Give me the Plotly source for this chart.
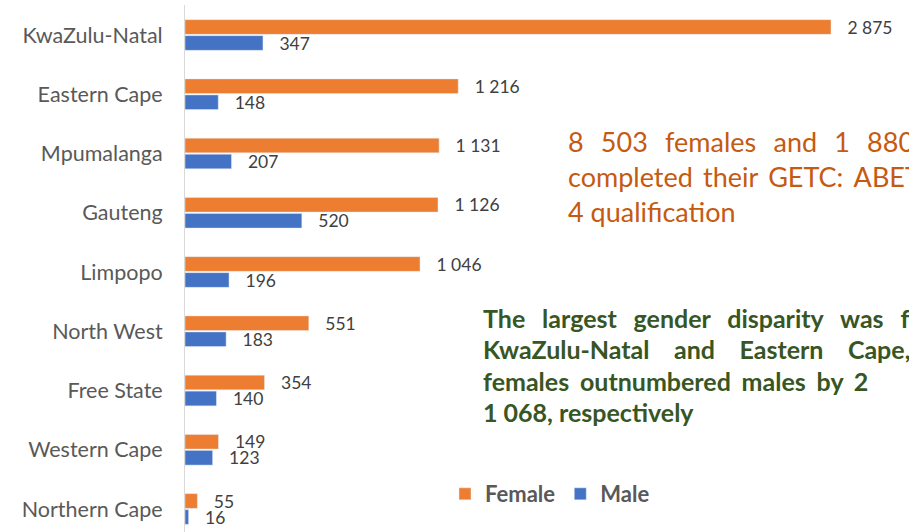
import plotly.graph_objects as go

provinces = ["KwaZulu-Natal", "Eastern Cape", "Mpumalanga", "Gauteng", "Limpopo",
             "North West", "Free State", "Western Cape", "Northern Cape"]
female = [2875, 1216, 1131, 1126, 1046, 551, 354, 149, 55]
male = [347, 148, 207, 520, 196, 183, 140, 123, 16]

ORANGE = "#ED7D31"
BLUE = "#4472C4"
FONT = "Lato"
NB = "\u00a0"
HAIR = "\u200a"
THIN = "\u2009"

W, H = 909, 532
L, T = 185, 5
PW, PH = W - L, H - T


def px(X):
    return (X - L) / PW


def py(Y):
    return (H - Y) / PH


def fmt(v):
    return f"{v:,}".replace(",", " ")


pad = NB * 3

fig = go.Figure()
for name, vals, col in [("Female", female, ORANGE), ("Male", male, BLUE)]:
    fig.add_trace(go.Bar(
        y=provinces, x=vals, orientation="h", name=name,
        marker=dict(color=col),
        text=[pad + fmt(v) for v in vals], textposition="outside",
        constraintext="none",
        textfont=dict(family=FONT, size=17.5, color="#404040"), cliponaxis=False,
    ))

orange_lines = [
    (NB * 2 + THIN).join(["8", "503", "females", "and", "1", "880", "males"]),
    (NB + THIN).join(["completed", "their", "GETC:", "ABET", "Level"]),
    "4 qualification",
]
green_lines = [
    (NB * 2 + THIN + HAIR).join(["The", "largest", "gender", "disparity", "was", "found", "in"]),
    (NB * 3 + THIN * 2).join(["KwaZulu-Natal", "and", "Eastern", "Cape,", "where"]),
    (NB + THIN + HAIR).join(["females", "outnumbered", "males", "by", "2"]) + NB * 10 + "528 and",
    "1 068, respectively",
]

annotations = []
for i, line in enumerate(orange_lines):
    annotations.append(dict(
        xref="paper", yref="paper", x=px(566), y=py(141 + 35 * i),
        xanchor="left", yanchor="middle", showarrow=False, align="left",
        text=line, font=dict(family=FONT, size=27, color="#C55A11"),
    ))
for i, line in enumerate(green_lines):
    annotations.append(dict(
        xref="paper", yref="paper", x=px(481), y=py(318 + 31.3 * i),
        xanchor="left", yanchor="middle", showarrow=False, align="left",
        text="<b>" + line + "</b>", font=dict(family=FONT, size=25, color="#375623"),
    ))

fig.update_layout(
    width=W, height=H,
    margin=dict(l=L, r=0, t=T, b=0),
    paper_bgcolor="white", plot_bgcolor="white",
    barmode="group", bargap=0.46, bargroupgap=0.08,
    showlegend=True,
    legend=dict(orientation="h", x=px(445), y=py(494),
                xanchor="left", yanchor="middle",
                font=dict(family=FONT, size=22, color="#595959", weight="bold"),
                bgcolor="rgba(0,0,0,0)", itemwidth=30),
    xaxis=dict(range=[0, PW * 2875 / 646], visible=False),
    yaxis=dict(type="category", categoryorder="array", categoryarray=provinces,
               range=[(H - 35) / 59.25, -(35 - T) / 59.25],
               showline=True, linecolor="#D9D9D9", linewidth=1,
               ticks="", ticklabelstandoff=17, showgrid=False, zeroline=False,
               tickfont=dict(family=FONT, size=21.5, color="#595959")),
    annotations=annotations,
)

fig.write_html(
    "out.html",
    config={"displayModeBar": False},
    post_script="document.body.style.margin='0';"
                "document.documentElement.style.overflow='hidden';"
                "document.body.style.overflow='hidden';",
)
